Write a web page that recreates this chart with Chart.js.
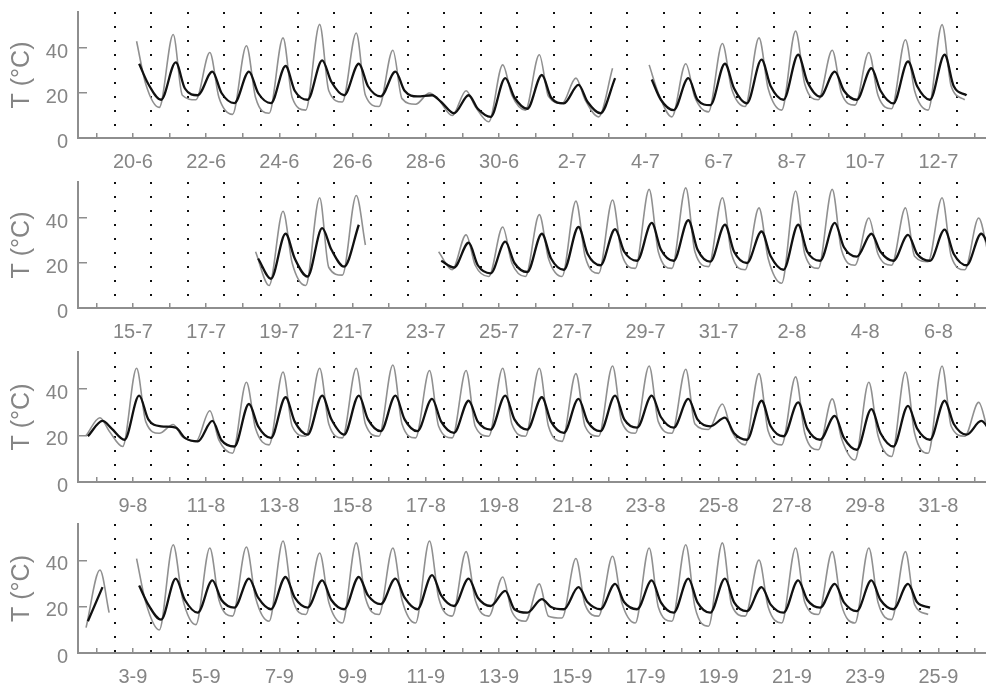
<!DOCTYPE html>
<html>
<head>
<meta charset="utf-8">
<script src="https://cdn.jsdelivr.net/npm/chart.js@4.4.1/dist/chart.umd.min.js"></script>
<style>
  body { margin: 0; background: #fff; width: 986px; height: 687px; overflow: hidden; position: relative; }
  .panel { position: absolute; left: 0; width: 986px; }
</style>
</head>
<body>
<div class="panel" id="p1"><canvas id="c1"></canvas></div>
<div class="panel" id="p2"><canvas id="c2"></canvas></div>
<div class="panel" id="p3"><canvas id="c3"></canvas></div>
<div class="panel" id="p4"><canvas id="c4"></canvas></div>
<script>
// Tick labels (every other day, shown at noon)
const labels1 = ["20-6", "22-6", "24-6", "26-6", "28-6", "30-6", "2-7", "4-7", "6-7", "8-7", "10-7", "12-7"];
const labels2 = ["15-7", "17-7", "19-7", "21-7", "23-7", "25-7", "27-7", "29-7", "31-7", "2-8", "4-8", "6-8"];
const labels3 = ["9-8", "11-8", "13-8", "15-8", "17-8", "19-8", "21-8", "23-8", "25-8", "27-8", "29-8", "31-8"];
const labels4 = ["3-9", "5-9", "7-9", "9-9", "11-9", "13-9", "15-9", "17-9", "19-9", "21-9", "23-9", "25-9"];

// Daily readings, one value per day of the panel (day 0 = first midnight)
// grey: morning low, afternoon peak, evening ; black: same
const greyLo1 = [null, null, 13.6, 17, 10.5, 11, 12.4, 16, 14, 15, 10, 7.2, 12.4, 15.4, 9.4, null, 9.4, 11.6, 14, 12.4, 17, 14.6, 13, 12.4, 17];
const greyHi1 = [null, 43, 46, 38, 41, 44.5, 50.5, 46.7, 39, 20, 21, 32.5, 37, 26.6, 31, 32.5, 33, 42, 44.5, 47.5, 39, 38, 43.7, 50.4, null];
const greyEv1 = [null, 24, 19, 18, 18, 18, 21, 19, 17.5, 17, 14, 19, 18.5, 17, null, 20, 18, 22, 22, 24, 20, 19, 21, 23, null];
const blackLo1 = [null, null, 17, 19, 15.5, 15.5, 17, 19, 18.5, 18.5, 11, 9.4, 13, 15.4, 11, null, 12.4, 14.6, 15.4, 17, 18.4, 17, 15.4, 17, 19];
const blackHi1 = [null, 33, 33.6, 29.5, 29.5, 32, 34.5, 33, 29.5, 19, 19, 26.6, 28, 23.6, 26.6, 26, 26.6, 33, 34.8, 37, 29.5, 31, 34, 37, null];
const blackEv1 = [null, 24, 22, 20, 20, 21, 25, 23, 21, 16, 13, 18, 18, 16, null, 17, 17, 22, 23, 25, 21, 21, 23, 23, null];

const greyLo2 = [null, null, null, null, null, 10, 10, 14.6, null, null, 17, 14, 14, 14, 15.4, 17.6, 17.6, 18.4, 17, 11, 17.6, 19, 19, 20.6, 17];
const greyHi2 = [null, null, null, null, null, 43, 49, 50, null, null, 32.5, 36, 41.5, 47.5, 48, 52.7, 53.4, 49, 44.5, 52, 52.7, 40, 44.5, 49, 40];
const greyEv2 = [null, null, null, null, 25, 20, 18, 28, null, 25, 19, 20, 22, 23, 24, 25, 25, 24, 22, 24, 26, 24, 23, 23, 25];
const blackLo2 = [null, null, null, null, null, 13, 14, 18.4, null, null, 18, 15.4, 16, 17, 19, 21, 21, 20.6, 20, 17, 21, 22.8, 21, 21, 19];
const blackHi2 = [null, null, null, null, null, 33, 35.5, 37, null, null, 29, 29.5, 33, 36, 35, 37.8, 39, 37, 34, 37, 37.8, 33, 32.5, 34.8, 33];
const blackEv2 = [null, null, null, null, 22, 22, 26, null, null, 21, 19, 20, 22, 24, 25, 26, 26, 25, 23, 25, 27, 25, 24, 24, 26];

const greyLo3 = [20, 15.3, 21, 17.5, 12.4, 16, 19.7, 19, 19.7, 19, 19, 19.7, 19.7, 17.5, 19.7, 21, 21, 22.6, 16, 16, 13.9, 9.5, 11, 12.4, 19.7];
const greyHi3 = [27.7, 49, 24.8, 30.7, 43, 47.4, 49, 49, 50.4, 48, 48, 49, 49, 46.7, 50, 50, 48.6, 33.6, 46.7, 45.3, 35.8, 43, 47.4, 50, 34.3];
const greyEv3 = [22, 26, 19.5, 18, 23, 24, 25, 25, 25, 24, 24, 25, 24, 24, 26, 26, 25, 22, 22, 21, 19, 20, 21, 24, 22];
const blackLo3 = [19.7, 18.2, 24, 17.5, 15.3, 19, 20.4, 20.4, 21.9, 21.9, 21.2, 22.6, 22.6, 21.2, 21.9, 23.4, 23.4, 24, 18.2, 19.7, 18.2, 13.9, 15.3, 18.2, 20.4];
const blackHi3 = [26.3, 37.2, 23.4, 26.3, 33.6, 36.5, 37.2, 37.2, 37.2, 35.8, 35, 37.2, 36.5, 35.8, 37.2, 37.2, 35.8, 27.7, 35, 34.3, 28.5, 31.4, 32.8, 35, 26.3];
const blackEv3 = [23, 27, 19, 18, 24, 26, 27, 27, 27, 26, 26, 27, 26, 26, 27, 28, 27, 21, 24, 23, 19, 21, 23, 25, 22];

const greyLo4 = [11, null, 10, 12.3, 16, 13.8, 16.7, 13, 16.7, 13, 16, 16, 13.8, 15.2, 16, 13, 13.8, 11.6, 16, 13, 16.7, 13, 14.5, 16.7, null];
const greyHi4 = [36, 41, 47, 45.6, 46, 48.6, 43.4, 47.8, 45.6, 48.6, 44, 33, 30, 41, 42, 45.6, 47, 47.8, 40.4, 45.6, 44, 45.6, 44, null, null];
const greyEv4 = [17.5, 22, 24, 23, 24, 24, 22, 24, 23, 24, 23, 18, 16, 21, 22, 20, 20, 21, 20, 22, 21, 22, 21, null, null];
const blackLo4 = [13.8, null, 14.5, 17.5, 19.7, 19, 19.7, 19, 21.2, 19, 20.4, 20.4, 17.5, 19, 19, 19, 17.5, 17.5, 18.2, 17.5, 19.7, 18.2, 19, 19.7, null];
const blackHi4 = [28.6, 29.3, 32.3, 31.5, 32.3, 33, 31.5, 33, 32.3, 33.8, 32.3, 27, 23.4, 28.6, 30, 31.5, 32.3, 32.3, 28.6, 31.5, 30, 31.5, 30, null, null];
const blackEv4 = [null, 21, 23, 23, 24, 24, 23, 25, 24, 25, 24, 19, 20, 22, 22, 22, 22, 22, 21, 23, 22, 23, 22, null, null];

// time of day (fraction) of each reading
const greyHours = [0.22, 0.6, 0.85];
const blackHours = [0.27, 0.67, 0.92];

const yTicks = [0, 20, 40];

// panel placement (chart area top / bottom in page pixels)
const panelTop = [12, 182, 352, 524];
const panelBottom = [138, 308, 482, 653];
const PAD_TOP = 4;
const AXIS_H = 40;
const X_MAX = 24.8;

const greyText = "#858585";
const axisGrey = "#8e8e8e";
const fontFamily = "'Liberation Sans', Arial, sans-serif";

function buildSeries(lo, hi, ev, hours) {
  const pts = [];
  lo.forEach((v, d) => {
    pts.push({ x: d + hours[0], y: lo[d] });
    pts.push({ x: d + hours[1], y: hi[d] });
    pts.push({ x: d + hours[2], y: ev[d] });
  });
  return pts;
}

function makePanel(idx, canvasId, dateLabels, grey, black) {
  const wrap = document.getElementById("p" + (idx + 1));
  const canvas = document.getElementById(canvasId);
  const plotH = panelBottom[idx] - panelTop[idx];
  const h = PAD_TOP + plotH + AXIS_H;
  wrap.style.top = (panelTop[idx] - PAD_TOP) + "px";
  canvas.width = 986;
  canvas.height = h;

  const midnights = [];
  const noons = [];
  for (let d = 0; d < 25; d++) {
    midnights.push(d);
    noons.push(d + 0.5);
  }

  new Chart(canvas, {
    type: "line",
    data: {
      datasets: [
        {
          label: "black",
          data: buildSeries(black[0], black[1], black[2], blackHours),
          borderColor: "#111",
          borderWidth: 2.3,
          pointRadius: 0,
          cubicInterpolationMode: "monotone",
          xAxisID: "x",
        },
        {
          label: "grey",
          data: buildSeries(grey[0], grey[1], grey[2], greyHours),
          borderColor: "#909090",
          borderWidth: 1.6,
          pointRadius: 0,
          cubicInterpolationMode: "monotone",
          xAxisID: "x",
        }
      ]
    },
    options: {
      responsive: false,
      animation: false,
      layout: { padding: { top: PAD_TOP, right: 0, bottom: 0, left: 0 } },
      plugins: { legend: { display: false }, tooltip: { enabled: false } },
      scales: {
        x: {
          type: "linear",
          position: "bottom",
          min: 0,
          max: X_MAX,
          afterBuildTicks: (s) => { s.ticks = midnights.map((v) => ({ value: v })); },
          afterFit: (s) => { s.height = 0; s.paddingLeft = 0; s.paddingRight = 0; },
          ticks: { display: false },
          border: { display: false, dash: [2, 12] },
          grid: { color: "#111", lineWidth: 2, drawTicks: false }
        },
        x2: {
          type: "linear",
          position: "bottom",
          min: 0,
          max: X_MAX,
          afterBuildTicks: (s) => { s.ticks = noons.map((v) => ({ value: v })); },
          afterFit: (s) => { s.height = AXIS_H; s.paddingLeft = 0; s.paddingRight = 0; },
          ticks: {
            autoSkip: false,
            maxRotation: 0,
            padding: 17,
            color: greyText,
            font: { family: fontFamily, size: 20 },
            callback: (value) => {
              const d = Math.round(value - 0.5);
              return d % 2 === 1 ? dateLabels[(d - 1) / 2] : "";
            }
          },
          border: { display: true, color: axisGrey, width: 2 },
          grid: { drawOnChartArea: false, drawTicks: true, tickLength: -5, color: axisGrey, lineWidth: 1.5 }
        },
        y: {
          min: 0,
          max: 56,
          afterBuildTicks: (s) => { s.ticks = yTicks.map((v) => ({ value: v })); },
          afterFit: (s) => { s.width = 78; s.paddingTop = 0; s.paddingBottom = 0; },
          ticks: {
            padding: 19,
            labelOffset: 4,
            color: greyText,
            font: { family: fontFamily, size: 20 }
          },
          border: { display: true, color: axisGrey, width: 2 },
          grid: { drawOnChartArea: false, drawTicks: true, tickLength: -9, color: axisGrey, lineWidth: 1.5 },
          title: {
            display: true,
            text: "T (°C)",
            color: greyText,
            font: { family: fontFamily, size: 25 },
            padding: { top: 7, bottom: 0 }
          }
        }
      }
    }
  });
}

makePanel(0, "c1", labels1, [greyLo1, greyHi1, greyEv1], [blackLo1, blackHi1, blackEv1]);
makePanel(1, "c2", labels2, [greyLo2, greyHi2, greyEv2], [blackLo2, blackHi2, blackEv2]);
makePanel(2, "c3", labels3, [greyLo3, greyHi3, greyEv3], [blackLo3, blackHi3, blackEv3]);
makePanel(3, "c4", labels4, [greyLo4, greyHi4, greyEv4], [blackLo4, blackHi4, blackEv4]);
</script>
</body>
</html>
